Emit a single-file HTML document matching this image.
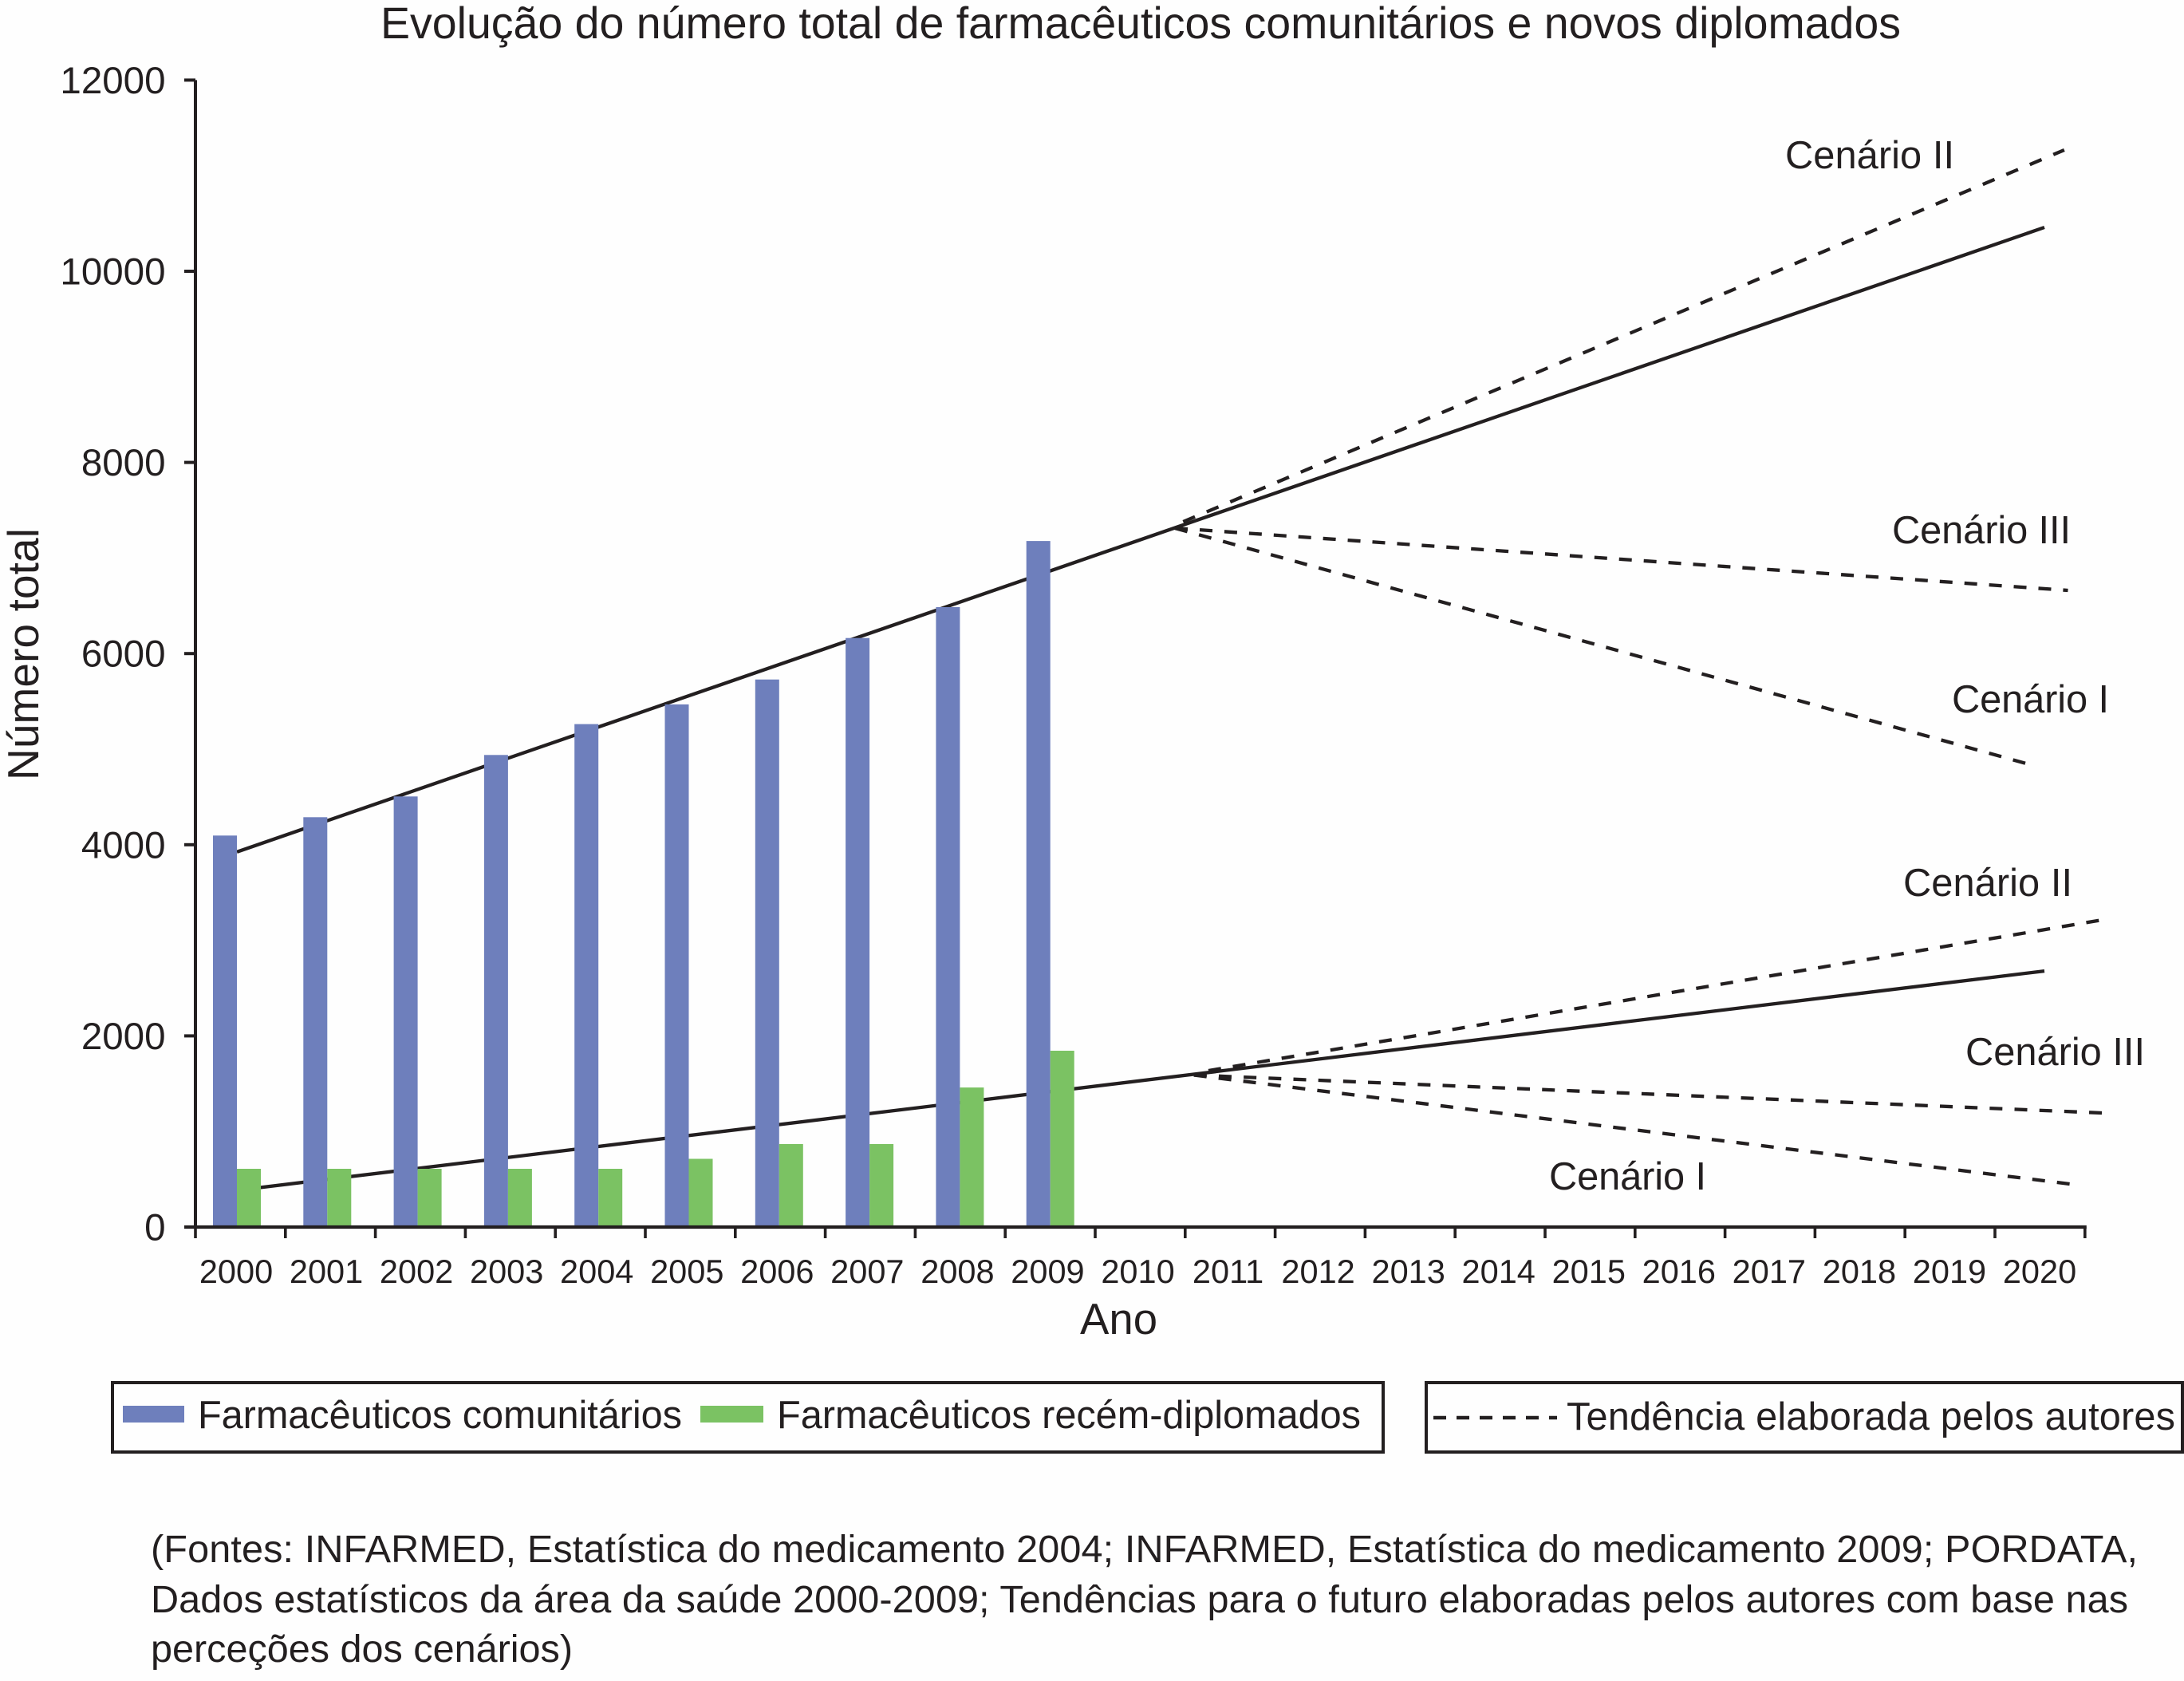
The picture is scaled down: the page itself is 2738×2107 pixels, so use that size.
<!DOCTYPE html>
<html lang="pt">
<head>
<meta charset="utf-8">
<title>Evolução do número total de farmacêuticos comunitários e novos diplomados</title>
<style>
html,body{margin:0;padding:0;background:#fff;}
svg{display:block;}
text{font-family:"Liberation Sans",Arial,sans-serif;fill:#231f20;}
</style>
</head>
<body>
<svg id="chart" xmlns="http://www.w3.org/2000/svg" width="2738" height="2107" viewBox="0 0 2738 2107">
  <rect x="0" y="0" width="2738" height="2107" fill="#fefefe"/>
  <text x="477" y="48" font-size="55.5" textLength="1906">Evolução do número total de farmacêuticos comunitários e novos diplomados</text>
  <text transform="translate(48,978) rotate(-90)" font-size="55" textLength="316">Número total</text>
  <text x="1354" y="1672" font-size="54.5" textLength="97">Ano</text>
  <g id="trend-layer"></g>
  <g id="bar-layer"></g>
  <g id="axis-layer"></g>

  <text x="2238" y="211" font-size="48.8" textLength="212">Cenário II</text>
  <text x="2372" y="681" font-size="48.8" textLength="224">Cenário III</text>
  <text x="2447" y="893" font-size="48.8" textLength="197">Cenário I</text>
  <text x="2386" y="1123" font-size="48.8" textLength="212">Cenário II</text>
  <text x="2464" y="1335" font-size="48.8" textLength="225">Cenário III</text>
  <text x="1942" y="1491" font-size="48.8" textLength="197">Cenário I</text>

  <g>
    <rect x="141" y="1733" width="1593" height="87" fill="none" stroke="#231f20" stroke-width="4"/>
    <rect x="154" y="1762" width="77" height="21" fill="#6e7fbc"/>
    <text x="248" y="1790" font-size="48.7" textLength="607">Farmacêuticos comunitários</text>
    <rect x="878" y="1762" width="79" height="21" fill="#7bc263"/>
    <text x="974" y="1790" font-size="48.7" textLength="732">Farmacêuticos recém-diplomados</text>
  </g>
  <g>
    <rect x="1788" y="1733" width="948" height="87" fill="none" stroke="#231f20" stroke-width="4"/>
    <line x1="1797" y1="1777" x2="1952" y2="1777" stroke="#231f20" stroke-width="4.6" stroke-dasharray="16 13"/>
    <text x="1964" y="1792" font-size="48.7" textLength="763">Tendência elaborada pelos autores</text>
  </g>

  <g font-size="48.6">
    <text x="189" y="1958" textLength="2491">(Fontes: INFARMED, Estatística do medicamento 2004; INFARMED, Estatística do medicamento 2009; PORDATA,</text>
    <text x="189" y="2021" textLength="2479">Dados estatísticos da área da saúde 2000-2009; Tendências para o futuro elaboradas pelos autores com base nas</text>
    <text x="189" y="2083" textLength="529">perceções dos cenários)</text>
  </g>
</svg>
<script>
// ----- chart data -----
var years = ["2000","2001","2002","2003","2004","2005","2006","2007","2008","2009","2010","2011","2012","2013","2014","2015","2016","2017","2018","2019","2020"];
var yTicks = [0, 2000, 4000, 6000, 8000, 10000, 12000];
var community = [4096, 4288, 4505, 4939, 5262, 5468, 5729, 6163, 6486, 7178];
var graduates = [609, 609, 609, 609, 609, 714, 868, 868, 1460, 1845];

var upperTrendYears = [2000, 2020];
var upperTrendValues = [3925, 10459];
var lowerTrendYears = [2000, 2020];
var lowerTrendValues = [384, 2679];

var upperScenario2Years = [2010.47, 2020.22];
var upperScenario2Values = [7379, 11269];
var upperScenario3Years = [2010.38, 2020.26];
var upperScenario3Values = [7312, 6661];
var upperScenario1Years = [2010.38, 2019.80];
var upperScenario1Values = [7312, 4850];

var lowerScenario2Years = [2010.75, 2020.64];
var lowerScenario2Values = [1636, 3214];
var lowerScenario3Years = [2010.59, 2020.64];
var lowerScenario3Values = [1590, 1194];
var lowerScenario1Years = [2010.59, 2020.28];
var lowerScenario1Values = [1590, 451];

// ----- axis functions -----
var NS = "http://www.w3.org/2000/svg";
var INK = "#231f20";
function yPos(v){ return 1538 - 0.1198 * v; }
function xPos(year){ return 297 + 113.3 * (year - 2000); }
function xLabelPos(i){ return 296 + 113.05 * i; }
function xTickPos(i){ return 245 + 112.8 * i; }

function mk(tag, attrs, parent){
  var el = document.createElementNS(NS, tag);
  for (var k in attrs) { el.setAttribute(k, attrs[k]); }
  parent.appendChild(el);
  return el;
}

var trendLayer = document.getElementById("trend-layer");
var barLayer = document.getElementById("bar-layer");
var axisLayer = document.getElementById("axis-layer");

// ----- trend lines -----
function drawLine(xs, vs, dash, name){
  var pts = [];
  for (var i = 0; i < xs.length; i++) { pts.push(xPos(xs[i]).toFixed(1) + "," + yPos(vs[i]).toFixed(1)); }
  var attrs = {points: pts.join(" "), fill: "none", stroke: INK, "stroke-width": 4.3};
  if (dash) { attrs["stroke-dasharray"] = dash; }
  var el = mk("polyline", attrs, trendLayer);
  
  
}
drawLine(upperTrendYears, upperTrendValues, null, "upper-trend-line");
drawLine(lowerTrendYears, lowerTrendValues, null, "lower-trend-line");
drawLine(upperScenario2Years, upperScenario2Values, "16 16", "upper-scenario-2-line");
drawLine(upperScenario3Years, upperScenario3Values, "16 15", "upper-scenario-3-line");
drawLine(upperScenario1Years, upperScenario1Values, "16 15.14", "upper-scenario-1-line");
drawLine(lowerScenario2Years, lowerScenario2Values, "16 15", "lower-scenario-2-line");
drawLine(lowerScenario3Years, lowerScenario3Values, "16 15.2", "lower-scenario-3-line");
drawLine(lowerScenario1Years, lowerScenario1Values, "16 15.15", "lower-scenario-1-line");

// ----- bars -----
var BAR_W = 30;
community.forEach(function(v, i){
  var x = xPos(2000 + i) - BAR_W;
  var bar = mk("rect", {x: x.toFixed(1), y: yPos(v).toFixed(1), width: BAR_W, height: (yPos(0) - yPos(v)).toFixed(1), fill: "#6e7fbc"}, barLayer);
  
  
});
graduates.forEach(function(v, i){
  var x = xPos(2000 + i);
  var bar = mk("rect", {x: x.toFixed(1), y: yPos(v).toFixed(1), width: BAR_W, height: (yPos(0) - yPos(v)).toFixed(1), fill: "#7bc263"}, barLayer);
  
  
});

// ----- axes -----
var yAxis = mk("line", {x1: 245, y1: yPos(12000), x2: 245, y2: 1540, stroke: INK, "stroke-width": 4}, axisLayer);


var xAxis = mk("line", {x1: 231, y1: 1538, x2: xTickPos(years.length) + 2, y2: 1538, stroke: INK, "stroke-width": 4.2}, axisLayer);



yTicks.forEach(function(v){
  var tick = mk("line", {x1: 231, y1: yPos(v), x2: 245, y2: yPos(v), stroke: INK, "stroke-width": 4}, axisLayer);
  
  
  var label = mk("text", {x: 207.5, y: yPos(v) + 16.5, "font-size": 47.5, "text-anchor": "end"}, axisLayer);
  label.textContent = String(v);
  
  
});

for (var t = 0; t <= years.length; t++) {
  var xt = mk("line", {x1: xTickPos(t), y1: 1538, x2: xTickPos(t), y2: 1552, stroke: INK, "stroke-width": 3.6}, axisLayer);
  
  
}
years.forEach(function(label, i){
  var tx = mk("text", {x: xLabelPos(i), y: 1608, "font-size": 41.5, "text-anchor": "middle"}, axisLayer);
  tx.textContent = label;
  
  
});
</script>
</body>
</html>
